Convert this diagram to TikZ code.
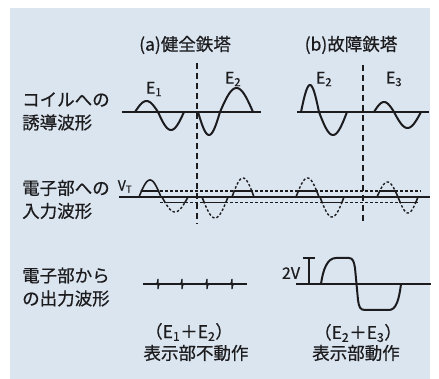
\documentclass[tikz,border=0pt]{standalone}
\usepackage{fontspec}
\setmainfont{Noto Sans CJK JP}[BoldFont={Noto Sans CJK JP},BoldFeatures={FakeBold=0.6}]
\definecolor{bgblue}{RGB}{219,229,240}
\definecolor{ink}{RGB}{28,28,30}
\newcommand{\wlobe}[5][wave]{%
  \draw[#1] plot[domain=0:180,samples=40,smooth] ({#2+(#3-#2)*\x/180},{#4-(#5)*sin(\x)});}
\newcommand{\clobe}[6][dwave]{% x0,x1,yb,A,yt
  \pgfmathsetmacro{\tz}{asin(abs(#4-(#6))/abs(#5))}%
  \pgfmathsetmacro{\xa}{#2+(#3-#2)*\tz/180}%
  \pgfmathsetmacro{\xb}{#3-(#3-#2)*\tz/180}%
  \begin{scope}\clip (#2-2,#4) rectangle (#3+2,#6);
    \wlobe[wave2]{#2}{#3}{#4}{#5}\end{scope}
  \begin{scope}\clip (#2-2,#6) rectangle (#3+2,{#4-2*(#5)});
    \wlobe[#1]{#2}{#3}{#4}{#5}\end{scope}
  \draw[wave2] (\xa,#6) -- (\xb,#6);}
\newcommand{\Esub}[1]{E\textsubscript{#1}}
\begin{document}
\begin{tikzpicture}[x=1pt,y=-1pt,
  wave/.style={ink,line width=2pt,line cap=round,line join=round},
  wave2/.style={ink,line width=1.6pt,line cap=round},
  dwave/.style={ink,line width=1.4pt,dash pattern=on 2.5pt off 2pt},
  axisline/.style={ink,line width=1.7pt},
  thr/.style={ink,line width=1.1pt,dash pattern=on 3pt off 2pt},
  vdash/.style={ink,line width=1.5pt,dash pattern=on 6pt off 4pt},
  jp/.style={text=ink,inner sep=0pt,font=\fontsize{17.5}{23}\selectfont\bfseries},
  elab/.style={text=ink,inner sep=0pt,font=\fontsize{16}{16}\selectfont\bfseries}]
\useasboundingbox (0,0) rectangle (439,379);
\fill[white] (0,0) rectangle (439,379);
\fill[bgblue] (10,8) rectangle (430,379);

% titles
\node[jp] (ta) at (185,45) {(a)健全鉄塔};
\node[jp] (tb) at (351,45) {(b)故障鉄塔};

% left labels
\node[jp,align=left,anchor=west] (l1) at (22,111.5) {コイルへの\\誘導波形};
\node[jp,align=left,anchor=west] (l2) at (22,199.5) {電子部への\\入力波形};
\node[jp,align=left,anchor=west] (l3) at (22,287) {電子部から\\の出力波形};

% dashed separators
\coordinate (va1) at (197,63); \coordinate (va2) at (197,224);
\coordinate (vb1) at (363,65); \coordinate (vb2) at (363,224);
\draw[vdash] (va1) -- (va2);
\draw[vdash] (vb1) -- (vb2);

% row 1: coil waveforms
\coordinate (a1s) at (122,112); \coordinate (a1e) at (261,112);
\coordinate (b1s) at (297,112); \coordinate (b1e) at (429,112);
\draw[axisline] (a1s) -- (a1e);
\draw[axisline] (b1s) -- (b1e);
\wlobe{135}{158}{112}{11}\wlobe{158}{184}{112}{-18}
\wlobe{198}{220}{112}{-23}\wlobe{220}{253}{112}{24}
\wlobe{301}{319}{112}{27}\wlobe{319}{347}{112}{-23}
\wlobe{374}{394}{112}{10}\wlobe{394}{421}{112}{-16}
\node[elab] (e1) at (154,89) {\Esub{1}};
\node[elab] (e2a) at (233,79) {\Esub{2}};
\node[elab] (e2b) at (324,79) {\Esub{2}};
\node[elab] (e3) at (394,79) {\Esub{3}};

% row 2: input waveforms
\coordinate (a2s) at (119,197); \coordinate (a2e) at (430,197);
\draw[axisline] (a2s) -- (a2e);
\coordinate (tu1) at (160,191); \coordinate (tu2) at (421,191);
\coordinate (tl1) at (160,202.5); \coordinate (tl2) at (419,202.5);
\draw[thr] (tu1) -- (tu2);
\draw[thr] (tl1) -- (tl2);
\node[elab,font=\fontsize{14}{14}\selectfont\bfseries] (vt) at (125,186.5) {V\textsubscript{T}};
\clobe[wave2]{139}{161}{197}{17}{191}
\clobe{162}{188}{197}{-15}{202.5}
\clobe{202}{228}{197}{-21}{202.5}
\clobe{232}{254}{197}{19}{191}
\clobe{296}{319}{197}{19}{191}
\clobe{320}{344}{197}{-20}{202.5}
\clobe{377}{398}{197}{15}{191}
\clobe{398}{418}{197}{-16}{202.5}

% row 3: output waveforms
\coordinate (a3s) at (143,284); \coordinate (a3e) at (247,284);
\draw[axisline] (a3s) -- (a3e);
\foreach \px in {158,182,207,232}{
  \draw[ink,line width=1.3pt] (\px-1.5,284) .. controls (\px-0.5,283) and (\px,281) .. (\px,279)
     -- (\px,289) .. controls (\px,287) and (\px+0.5,285) .. (\px+1.5,284);}
\coordinate (b3s) at (296,284); \coordinate (b3e) at (431,284);
\draw[axisline] (b3s) -- (b3e);
\coordinate (brT) at (309,258); \coordinate (brB) at (309,284);
\draw[ink,line width=1.5pt] (brT) -- (brB);
\draw[ink,line width=1.5pt] ([xshift=-6pt]brT) -- ([xshift=6pt]brT);
\node[elab] (tv) at (291,273) {2V};
\draw[wave] (321,284) .. controls (323,270) and (327,258) .. (336,258) -- (349,258)
  .. controls (353,258) and (354,262) .. (355,268) -- (358,300)
  .. controls (359,307) and (360,310) .. (365,310) -- (389,310)
  .. controls (396,310) and (399,300) .. (401,284);

\node[jp] (s1) at (189,332) {（\Esub{1}＋\Esub{2}）};
\node[jp] (r1) at (196,353) {表示部不動作};
\node[jp] (s2) at (358,333) {（\Esub{2}＋\Esub{3}）};
\node[jp] (r2) at (356,353) {表示部動作};
\end{tikzpicture}
\end{document}
